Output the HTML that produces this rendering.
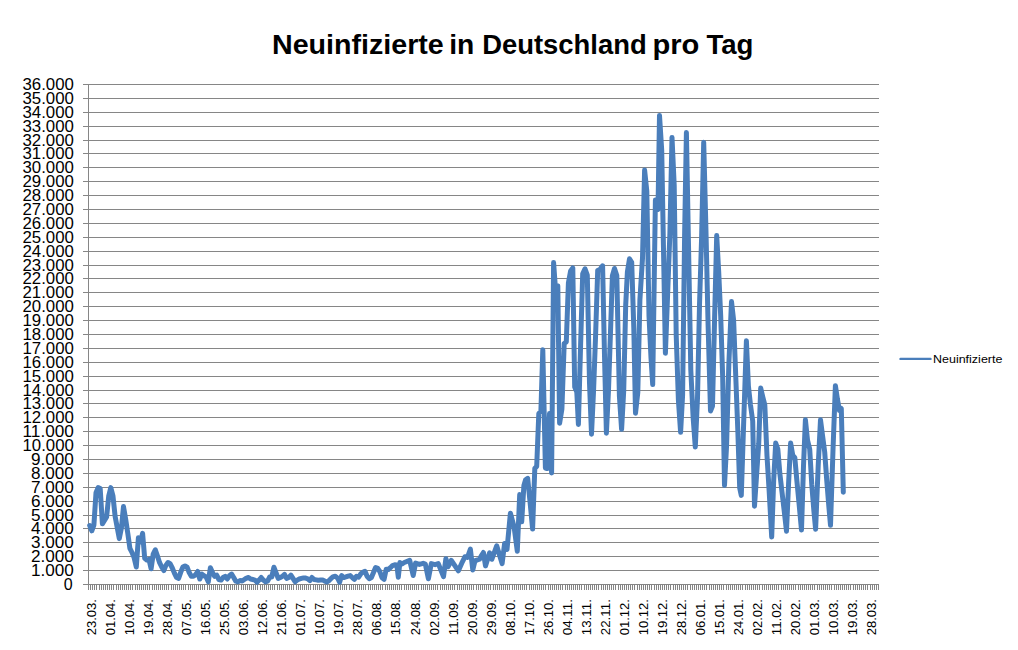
<!DOCTYPE html>
<html lang="de"><head><meta charset="utf-8"><title>Neuinfizierte in Deutschland pro Tag</title>
<style>html,body{margin:0;padding:0;background:#fff;}svg{display:block;}text{font-family:"Liberation Sans",sans-serif;fill:#000;}</style></head><body>
<svg width="1018" height="650" viewBox="0 0 1018 650">
<rect width="1018" height="650" fill="#fff"/>
<path d="M83 584.5H879M83 570.5H879M83 556.5H879M83 542.5H879M83 528.5H879M83 515.5H879M83 501.5H879M83 487.5H879M83 473.5H879M83 459.5H879M83 445.5H879M83 431.5H879M83 417.5H879M83 403.5H879M83 390.5H879M83 376.5H879M83 362.5H879M83 348.5H879M83 334.5H879M83 320.5H879M83 306.5H879M83 292.5H879M83 278.5H879M83 265.5H879M83 251.5H879M83 237.5H879M83 223.5H879M83 209.5H879M83 195.5H879M83 181.5H879M83 167.5H879M83 153.5H879M83 140.5H879M83 126.5H879M83 112.5H879M83 98.5H879M83 84.5H879" stroke="#868686" stroke-width="1" fill="none" shape-rendering="crispEdges"/>
<path d="M88.5 84V589.5" stroke="#868686" stroke-width="1" fill="none" shape-rendering="crispEdges"/>
<path d="M88.50 584.5V589.5M90.62 584.5V589.5M92.74 584.5V589.5M94.85 584.5V589.5M96.97 584.5V589.5M99.09 584.5V589.5M101.21 584.5V589.5M103.33 584.5V589.5M105.44 584.5V589.5M107.56 584.5V589.5M109.68 584.5V589.5M111.80 584.5V589.5M113.92 584.5V589.5M116.03 584.5V589.5M118.15 584.5V589.5M120.27 584.5V589.5M122.39 584.5V589.5M124.51 584.5V589.5M126.62 584.5V589.5M128.74 584.5V589.5M130.86 584.5V589.5M132.98 584.5V589.5M135.10 584.5V589.5M137.21 584.5V589.5M139.33 584.5V589.5M141.45 584.5V589.5M143.57 584.5V589.5M145.69 584.5V589.5M147.80 584.5V589.5M149.92 584.5V589.5M152.04 584.5V589.5M154.16 584.5V589.5M156.28 584.5V589.5M158.39 584.5V589.5M160.51 584.5V589.5M162.63 584.5V589.5M164.75 584.5V589.5M166.87 584.5V589.5M168.98 584.5V589.5M171.10 584.5V589.5M173.22 584.5V589.5M175.34 584.5V589.5M177.46 584.5V589.5M179.57 584.5V589.5M181.69 584.5V589.5M183.81 584.5V589.5M185.93 584.5V589.5M188.05 584.5V589.5M190.16 584.5V589.5M192.28 584.5V589.5M194.40 584.5V589.5M196.52 584.5V589.5M198.64 584.5V589.5M200.75 584.5V589.5M202.87 584.5V589.5M204.99 584.5V589.5M207.11 584.5V589.5M209.23 584.5V589.5M211.34 584.5V589.5M213.46 584.5V589.5M215.58 584.5V589.5M217.70 584.5V589.5M219.82 584.5V589.5M221.93 584.5V589.5M224.05 584.5V589.5M226.17 584.5V589.5M228.29 584.5V589.5M230.41 584.5V589.5M232.52 584.5V589.5M234.64 584.5V589.5M236.76 584.5V589.5M238.88 584.5V589.5M241.00 584.5V589.5M243.11 584.5V589.5M245.23 584.5V589.5M247.35 584.5V589.5M249.47 584.5V589.5M251.59 584.5V589.5M253.70 584.5V589.5M255.82 584.5V589.5M257.94 584.5V589.5M260.06 584.5V589.5M262.18 584.5V589.5M264.29 584.5V589.5M266.41 584.5V589.5M268.53 584.5V589.5M270.65 584.5V589.5M272.77 584.5V589.5M274.88 584.5V589.5M277.00 584.5V589.5M279.12 584.5V589.5M281.24 584.5V589.5M283.36 584.5V589.5M285.47 584.5V589.5M287.59 584.5V589.5M289.71 584.5V589.5M291.83 584.5V589.5M293.95 584.5V589.5M296.06 584.5V589.5M298.18 584.5V589.5M300.30 584.5V589.5M302.42 584.5V589.5M304.54 584.5V589.5M306.65 584.5V589.5M308.77 584.5V589.5M310.89 584.5V589.5M313.01 584.5V589.5M315.13 584.5V589.5M317.24 584.5V589.5M319.36 584.5V589.5M321.48 584.5V589.5M323.60 584.5V589.5M325.72 584.5V589.5M327.83 584.5V589.5M329.95 584.5V589.5M332.07 584.5V589.5M334.19 584.5V589.5M336.31 584.5V589.5M338.42 584.5V589.5M340.54 584.5V589.5M342.66 584.5V589.5M344.78 584.5V589.5M346.90 584.5V589.5M349.01 584.5V589.5M351.13 584.5V589.5M353.25 584.5V589.5M355.37 584.5V589.5M357.49 584.5V589.5M359.60 584.5V589.5M361.72 584.5V589.5M363.84 584.5V589.5M365.96 584.5V589.5M368.08 584.5V589.5M370.19 584.5V589.5M372.31 584.5V589.5M374.43 584.5V589.5M376.55 584.5V589.5M378.67 584.5V589.5M380.78 584.5V589.5M382.90 584.5V589.5M385.02 584.5V589.5M387.14 584.5V589.5M389.26 584.5V589.5M391.37 584.5V589.5M393.49 584.5V589.5M395.61 584.5V589.5M397.73 584.5V589.5M399.85 584.5V589.5M401.96 584.5V589.5M404.08 584.5V589.5M406.20 584.5V589.5M408.32 584.5V589.5M410.44 584.5V589.5M412.55 584.5V589.5M414.67 584.5V589.5M416.79 584.5V589.5M418.91 584.5V589.5M421.03 584.5V589.5M423.14 584.5V589.5M425.26 584.5V589.5M427.38 584.5V589.5M429.50 584.5V589.5M431.62 584.5V589.5M433.73 584.5V589.5M435.85 584.5V589.5M437.97 584.5V589.5M440.09 584.5V589.5M442.21 584.5V589.5M444.32 584.5V589.5M446.44 584.5V589.5M448.56 584.5V589.5M450.68 584.5V589.5M452.80 584.5V589.5M454.91 584.5V589.5M457.03 584.5V589.5M459.15 584.5V589.5M461.27 584.5V589.5M463.39 584.5V589.5M465.50 584.5V589.5M467.62 584.5V589.5M469.74 584.5V589.5M471.86 584.5V589.5M473.98 584.5V589.5M476.09 584.5V589.5M478.21 584.5V589.5M480.33 584.5V589.5M482.45 584.5V589.5M484.57 584.5V589.5M486.68 584.5V589.5M488.80 584.5V589.5M490.92 584.5V589.5M493.04 584.5V589.5M495.16 584.5V589.5M497.27 584.5V589.5M499.39 584.5V589.5M501.51 584.5V589.5M503.63 584.5V589.5M505.75 584.5V589.5M507.86 584.5V589.5M509.98 584.5V589.5M512.10 584.5V589.5M514.22 584.5V589.5M516.34 584.5V589.5M518.45 584.5V589.5M520.57 584.5V589.5M522.69 584.5V589.5M524.81 584.5V589.5M526.93 584.5V589.5M529.04 584.5V589.5M531.16 584.5V589.5M533.28 584.5V589.5M535.40 584.5V589.5M537.52 584.5V589.5M539.63 584.5V589.5M541.75 584.5V589.5M543.87 584.5V589.5M545.99 584.5V589.5M548.11 584.5V589.5M550.22 584.5V589.5M552.34 584.5V589.5M554.46 584.5V589.5M556.58 584.5V589.5M558.70 584.5V589.5M560.81 584.5V589.5M562.93 584.5V589.5M565.05 584.5V589.5M567.17 584.5V589.5M569.29 584.5V589.5M571.40 584.5V589.5M573.52 584.5V589.5M575.64 584.5V589.5M577.76 584.5V589.5M579.88 584.5V589.5M581.99 584.5V589.5M584.11 584.5V589.5M586.23 584.5V589.5M588.35 584.5V589.5M590.47 584.5V589.5M592.58 584.5V589.5M594.70 584.5V589.5M596.82 584.5V589.5M598.94 584.5V589.5M601.06 584.5V589.5M603.17 584.5V589.5M605.29 584.5V589.5M607.41 584.5V589.5M609.53 584.5V589.5M611.65 584.5V589.5M613.76 584.5V589.5M615.88 584.5V589.5M618.00 584.5V589.5M620.12 584.5V589.5M622.24 584.5V589.5M624.35 584.5V589.5M626.47 584.5V589.5M628.59 584.5V589.5M630.71 584.5V589.5M632.83 584.5V589.5M634.94 584.5V589.5M637.06 584.5V589.5M639.18 584.5V589.5M641.30 584.5V589.5M643.42 584.5V589.5M645.53 584.5V589.5M647.65 584.5V589.5M649.77 584.5V589.5M651.89 584.5V589.5M654.01 584.5V589.5M656.12 584.5V589.5M658.24 584.5V589.5M660.36 584.5V589.5M662.48 584.5V589.5M664.60 584.5V589.5M666.71 584.5V589.5M668.83 584.5V589.5M670.95 584.5V589.5M673.07 584.5V589.5M675.19 584.5V589.5M677.30 584.5V589.5M679.42 584.5V589.5M681.54 584.5V589.5M683.66 584.5V589.5M685.78 584.5V589.5M687.89 584.5V589.5M690.01 584.5V589.5M692.13 584.5V589.5M694.25 584.5V589.5M696.37 584.5V589.5M698.48 584.5V589.5M700.60 584.5V589.5M702.72 584.5V589.5M704.84 584.5V589.5M706.96 584.5V589.5M709.07 584.5V589.5M711.19 584.5V589.5M713.31 584.5V589.5M715.43 584.5V589.5M717.55 584.5V589.5M719.66 584.5V589.5M721.78 584.5V589.5M723.90 584.5V589.5M726.02 584.5V589.5M728.14 584.5V589.5M730.25 584.5V589.5M732.37 584.5V589.5M734.49 584.5V589.5M736.61 584.5V589.5M738.73 584.5V589.5M740.84 584.5V589.5M742.96 584.5V589.5M745.08 584.5V589.5M747.20 584.5V589.5M749.32 584.5V589.5M751.43 584.5V589.5M753.55 584.5V589.5M755.67 584.5V589.5M757.79 584.5V589.5M759.91 584.5V589.5M762.02 584.5V589.5M764.14 584.5V589.5M766.26 584.5V589.5M768.38 584.5V589.5M770.50 584.5V589.5M772.61 584.5V589.5M774.73 584.5V589.5M776.85 584.5V589.5M778.97 584.5V589.5M781.09 584.5V589.5M783.20 584.5V589.5M785.32 584.5V589.5M787.44 584.5V589.5M789.56 584.5V589.5M791.68 584.5V589.5M793.79 584.5V589.5M795.91 584.5V589.5M798.03 584.5V589.5M800.15 584.5V589.5M802.27 584.5V589.5M804.38 584.5V589.5M806.50 584.5V589.5M808.62 584.5V589.5M810.74 584.5V589.5M812.86 584.5V589.5M814.97 584.5V589.5M817.09 584.5V589.5M819.21 584.5V589.5M821.33 584.5V589.5M823.45 584.5V589.5M825.56 584.5V589.5M827.68 584.5V589.5M829.80 584.5V589.5M831.92 584.5V589.5M834.04 584.5V589.5M836.15 584.5V589.5M838.27 584.5V589.5M840.39 584.5V589.5M842.51 584.5V589.5M844.63 584.5V589.5M846.74 584.5V589.5M848.86 584.5V589.5M850.98 584.5V589.5M853.10 584.5V589.5M855.22 584.5V589.5M857.33 584.5V589.5M859.45 584.5V589.5M861.57 584.5V589.5M863.69 584.5V589.5M865.81 584.5V589.5M867.92 584.5V589.5M870.04 584.5V589.5M872.16 584.5V589.5M874.28 584.5V589.5M876.40 584.5V589.5M878.51 584.5V589.5" stroke="#868686" stroke-width="1" fill="none" shape-rendering="crispEdges"/>
<text x="272.0" y="54.4" font-size="27" font-weight="bold" textLength="171.8" lengthAdjust="spacingAndGlyphs">Neuinfizierte</text>
<text x="449.2" y="54.4" font-size="27" font-weight="bold" textLength="25.1" lengthAdjust="spacingAndGlyphs">in</text>
<text x="482.2" y="54.4" font-size="27" font-weight="bold" textLength="164.5" lengthAdjust="spacingAndGlyphs">Deutschland</text>
<text x="652.4" y="54.4" font-size="27" font-weight="bold" textLength="46.9" lengthAdjust="spacingAndGlyphs">pro</text>
<text x="706.4" y="54.4" font-size="27" font-weight="bold" textLength="47.0" lengthAdjust="spacingAndGlyphs">Tag</text>
<text x="72.6" y="589.7" text-anchor="end" font-size="16">0</text>
<text x="73.9" y="575.7" text-anchor="end" font-size="16" textLength="42.9" lengthAdjust="spacingAndGlyphs">1.000</text>
<text x="73.9" y="561.7" text-anchor="end" font-size="16" textLength="42.9" lengthAdjust="spacingAndGlyphs">2.000</text>
<text x="73.9" y="547.7" text-anchor="end" font-size="16" textLength="42.9" lengthAdjust="spacingAndGlyphs">3.000</text>
<text x="73.9" y="533.7" text-anchor="end" font-size="16" textLength="42.9" lengthAdjust="spacingAndGlyphs">4.000</text>
<text x="73.9" y="520.7" text-anchor="end" font-size="16" textLength="42.9" lengthAdjust="spacingAndGlyphs">5.000</text>
<text x="73.9" y="506.7" text-anchor="end" font-size="16" textLength="42.9" lengthAdjust="spacingAndGlyphs">6.000</text>
<text x="73.9" y="492.7" text-anchor="end" font-size="16" textLength="42.9" lengthAdjust="spacingAndGlyphs">7.000</text>
<text x="73.9" y="478.7" text-anchor="end" font-size="16" textLength="42.9" lengthAdjust="spacingAndGlyphs">8.000</text>
<text x="73.9" y="464.7" text-anchor="end" font-size="16" textLength="42.9" lengthAdjust="spacingAndGlyphs">9.000</text>
<text x="73.9" y="450.7" text-anchor="end" font-size="16" textLength="51.4" lengthAdjust="spacingAndGlyphs">10.000</text>
<text x="73.9" y="436.7" text-anchor="end" font-size="16" textLength="51.4" lengthAdjust="spacingAndGlyphs">11.000</text>
<text x="73.9" y="422.7" text-anchor="end" font-size="16" textLength="51.4" lengthAdjust="spacingAndGlyphs">12.000</text>
<text x="73.9" y="408.7" text-anchor="end" font-size="16" textLength="51.4" lengthAdjust="spacingAndGlyphs">13.000</text>
<text x="73.9" y="395.7" text-anchor="end" font-size="16" textLength="51.4" lengthAdjust="spacingAndGlyphs">14.000</text>
<text x="73.9" y="381.7" text-anchor="end" font-size="16" textLength="51.4" lengthAdjust="spacingAndGlyphs">15.000</text>
<text x="73.9" y="367.7" text-anchor="end" font-size="16" textLength="51.4" lengthAdjust="spacingAndGlyphs">16.000</text>
<text x="73.9" y="353.7" text-anchor="end" font-size="16" textLength="51.4" lengthAdjust="spacingAndGlyphs">17.000</text>
<text x="73.9" y="339.7" text-anchor="end" font-size="16" textLength="51.4" lengthAdjust="spacingAndGlyphs">18.000</text>
<text x="73.9" y="325.7" text-anchor="end" font-size="16" textLength="51.4" lengthAdjust="spacingAndGlyphs">19.000</text>
<text x="73.9" y="311.7" text-anchor="end" font-size="16" textLength="51.4" lengthAdjust="spacingAndGlyphs">20.000</text>
<text x="73.9" y="297.7" text-anchor="end" font-size="16" textLength="51.4" lengthAdjust="spacingAndGlyphs">21.000</text>
<text x="73.9" y="283.7" text-anchor="end" font-size="16" textLength="51.4" lengthAdjust="spacingAndGlyphs">22.000</text>
<text x="73.9" y="270.7" text-anchor="end" font-size="16" textLength="51.4" lengthAdjust="spacingAndGlyphs">23.000</text>
<text x="73.9" y="256.7" text-anchor="end" font-size="16" textLength="51.4" lengthAdjust="spacingAndGlyphs">24.000</text>
<text x="73.9" y="242.7" text-anchor="end" font-size="16" textLength="51.4" lengthAdjust="spacingAndGlyphs">25.000</text>
<text x="73.9" y="228.7" text-anchor="end" font-size="16" textLength="51.4" lengthAdjust="spacingAndGlyphs">26.000</text>
<text x="73.9" y="214.7" text-anchor="end" font-size="16" textLength="51.4" lengthAdjust="spacingAndGlyphs">27.000</text>
<text x="73.9" y="200.7" text-anchor="end" font-size="16" textLength="51.4" lengthAdjust="spacingAndGlyphs">28.000</text>
<text x="73.9" y="186.7" text-anchor="end" font-size="16" textLength="51.4" lengthAdjust="spacingAndGlyphs">29.000</text>
<text x="73.9" y="172.7" text-anchor="end" font-size="16" textLength="51.4" lengthAdjust="spacingAndGlyphs">30.000</text>
<text x="73.9" y="158.7" text-anchor="end" font-size="16" textLength="51.4" lengthAdjust="spacingAndGlyphs">31.000</text>
<text x="73.9" y="145.7" text-anchor="end" font-size="16" textLength="51.4" lengthAdjust="spacingAndGlyphs">32.000</text>
<text x="73.9" y="131.7" text-anchor="end" font-size="16" textLength="51.4" lengthAdjust="spacingAndGlyphs">33.000</text>
<text x="73.9" y="117.7" text-anchor="end" font-size="16" textLength="51.4" lengthAdjust="spacingAndGlyphs">34.000</text>
<text x="73.9" y="103.7" text-anchor="end" font-size="16" textLength="51.4" lengthAdjust="spacingAndGlyphs">35.000</text>
<text x="73.9" y="89.7" text-anchor="end" font-size="16" textLength="51.4" lengthAdjust="spacingAndGlyphs">36.000</text>
<text transform="translate(95.8 635.3) rotate(-90)" font-size="13.4" textLength="36.2" lengthAdjust="spacingAndGlyphs">23.03.</text>
<text transform="translate(114.8 635.3) rotate(-90)" font-size="13.4" textLength="36.2" lengthAdjust="spacingAndGlyphs">01.04.</text>
<text transform="translate(133.9 635.3) rotate(-90)" font-size="13.4" textLength="36.2" lengthAdjust="spacingAndGlyphs">10.04.</text>
<text transform="translate(152.9 635.3) rotate(-90)" font-size="13.4" textLength="36.2" lengthAdjust="spacingAndGlyphs">19.04.</text>
<text transform="translate(172.0 635.3) rotate(-90)" font-size="13.4" textLength="36.2" lengthAdjust="spacingAndGlyphs">28.04.</text>
<text transform="translate(191.0 635.3) rotate(-90)" font-size="13.4" textLength="36.2" lengthAdjust="spacingAndGlyphs">07.05.</text>
<text transform="translate(210.0 635.3) rotate(-90)" font-size="13.4" textLength="36.2" lengthAdjust="spacingAndGlyphs">16.05.</text>
<text transform="translate(229.1 635.3) rotate(-90)" font-size="13.4" textLength="36.2" lengthAdjust="spacingAndGlyphs">25.05.</text>
<text transform="translate(248.1 635.3) rotate(-90)" font-size="13.4" textLength="36.2" lengthAdjust="spacingAndGlyphs">03.06.</text>
<text transform="translate(267.2 635.3) rotate(-90)" font-size="13.4" textLength="36.2" lengthAdjust="spacingAndGlyphs">12.06.</text>
<text transform="translate(286.2 635.3) rotate(-90)" font-size="13.4" textLength="36.2" lengthAdjust="spacingAndGlyphs">21.06.</text>
<text transform="translate(305.2 635.3) rotate(-90)" font-size="13.4" textLength="36.2" lengthAdjust="spacingAndGlyphs">01.07.</text>
<text transform="translate(324.3 635.3) rotate(-90)" font-size="13.4" textLength="36.2" lengthAdjust="spacingAndGlyphs">10.07.</text>
<text transform="translate(343.3 635.3) rotate(-90)" font-size="13.4" textLength="36.2" lengthAdjust="spacingAndGlyphs">19.07.</text>
<text transform="translate(362.4 635.3) rotate(-90)" font-size="13.4" textLength="36.2" lengthAdjust="spacingAndGlyphs">28.07.</text>
<text transform="translate(381.4 635.3) rotate(-90)" font-size="13.4" textLength="36.2" lengthAdjust="spacingAndGlyphs">06.08.</text>
<text transform="translate(400.4 635.3) rotate(-90)" font-size="13.4" textLength="36.2" lengthAdjust="spacingAndGlyphs">15.08.</text>
<text transform="translate(419.5 635.3) rotate(-90)" font-size="13.4" textLength="36.2" lengthAdjust="spacingAndGlyphs">24.08.</text>
<text transform="translate(438.5 635.3) rotate(-90)" font-size="13.4" textLength="36.2" lengthAdjust="spacingAndGlyphs">02.09.</text>
<text transform="translate(457.6 635.3) rotate(-90)" font-size="13.4" textLength="36.2" lengthAdjust="spacingAndGlyphs">11.09.</text>
<text transform="translate(476.6 635.3) rotate(-90)" font-size="13.4" textLength="36.2" lengthAdjust="spacingAndGlyphs">20.09.</text>
<text transform="translate(495.6 635.3) rotate(-90)" font-size="13.4" textLength="36.2" lengthAdjust="spacingAndGlyphs">29.09.</text>
<text transform="translate(514.7 635.3) rotate(-90)" font-size="13.4" textLength="36.2" lengthAdjust="spacingAndGlyphs">08.10.</text>
<text transform="translate(533.7 635.3) rotate(-90)" font-size="13.4" textLength="36.2" lengthAdjust="spacingAndGlyphs">17.10.</text>
<text transform="translate(552.8 635.3) rotate(-90)" font-size="13.4" textLength="36.2" lengthAdjust="spacingAndGlyphs">26.10.</text>
<text transform="translate(571.8 635.3) rotate(-90)" font-size="13.4" textLength="36.2" lengthAdjust="spacingAndGlyphs">04.11.</text>
<text transform="translate(590.8 635.3) rotate(-90)" font-size="13.4" textLength="36.2" lengthAdjust="spacingAndGlyphs">13.11.</text>
<text transform="translate(609.9 635.3) rotate(-90)" font-size="13.4" textLength="36.2" lengthAdjust="spacingAndGlyphs">22.11.</text>
<text transform="translate(628.9 635.3) rotate(-90)" font-size="13.4" textLength="36.2" lengthAdjust="spacingAndGlyphs">01.12.</text>
<text transform="translate(648.0 635.3) rotate(-90)" font-size="13.4" textLength="36.2" lengthAdjust="spacingAndGlyphs">10.12.</text>
<text transform="translate(667.0 635.3) rotate(-90)" font-size="13.4" textLength="36.2" lengthAdjust="spacingAndGlyphs">19.12.</text>
<text transform="translate(686.0 635.3) rotate(-90)" font-size="13.4" textLength="36.2" lengthAdjust="spacingAndGlyphs">28.12.</text>
<text transform="translate(705.1 635.3) rotate(-90)" font-size="13.4" textLength="36.2" lengthAdjust="spacingAndGlyphs">06.01.</text>
<text transform="translate(724.1 635.3) rotate(-90)" font-size="13.4" textLength="36.2" lengthAdjust="spacingAndGlyphs">15.01.</text>
<text transform="translate(743.2 635.3) rotate(-90)" font-size="13.4" textLength="36.2" lengthAdjust="spacingAndGlyphs">24.01.</text>
<text transform="translate(762.2 635.3) rotate(-90)" font-size="13.4" textLength="36.2" lengthAdjust="spacingAndGlyphs">02.02.</text>
<text transform="translate(781.2 635.3) rotate(-90)" font-size="13.4" textLength="36.2" lengthAdjust="spacingAndGlyphs">11.02.</text>
<text transform="translate(800.3 635.3) rotate(-90)" font-size="13.4" textLength="36.2" lengthAdjust="spacingAndGlyphs">20.02.</text>
<text transform="translate(819.3 635.3) rotate(-90)" font-size="13.4" textLength="36.2" lengthAdjust="spacingAndGlyphs">01.03.</text>
<text transform="translate(838.4 635.3) rotate(-90)" font-size="13.4" textLength="36.2" lengthAdjust="spacingAndGlyphs">10.03.</text>
<text transform="translate(857.4 635.3) rotate(-90)" font-size="13.4" textLength="36.2" lengthAdjust="spacingAndGlyphs">19.03.</text>
<text transform="translate(876.4 635.3) rotate(-90)" font-size="13.4" textLength="36.2" lengthAdjust="spacingAndGlyphs">28.03.</text>
<polyline points="89.7,525.6 91.8,530.8 93.9,525.1 96.0,492.7 98.1,487.6 100.2,488.6 102.4,523.8 104.5,520.5 106.6,517.0 108.7,496.2 110.8,487.6 113.0,496.2 115.1,516.3 117.2,527.5 119.3,538.6 121.4,528.1 123.5,506.6 125.7,519.5 127.8,533.4 129.9,548.3 132.0,552.5 134.1,557.6 136.3,567.0 138.4,537.7 140.5,542.0 142.6,533.4 144.7,558.4 146.8,560.1 149.0,559.4 151.1,568.8 153.2,554.1 155.3,549.8 157.4,555.9 159.6,562.7 161.7,567.0 163.8,570.5 165.9,565.4 168.0,562.5 170.1,563.7 172.3,568.0 174.4,573.1 176.5,577.5 178.6,578.3 180.7,572.3 182.9,567.0 185.0,565.9 187.1,567.2 189.2,572.6 191.3,576.3 193.4,576.3 195.6,574.7 197.7,571.5 199.8,579.0 201.9,574.1 204.0,575.8 206.1,576.9 208.3,581.8 210.4,567.7 212.5,572.6 214.6,576.3 216.7,575.2 218.9,579.5 221.0,580.1 223.1,577.5 225.2,576.3 227.3,579.0 229.4,575.8 231.6,574.1 233.7,577.5 235.8,581.2 237.9,581.8 240.0,580.6 242.2,580.9 244.3,579.5 246.4,578.1 248.5,577.5 250.6,579.0 252.7,579.5 254.9,580.1 257.0,582.2 259.1,580.1 261.2,577.5 263.3,580.1 265.5,581.8 267.6,581.2 269.7,576.9 271.8,576.9 273.9,567.2 276.0,572.6 278.2,578.4 280.3,577.5 282.4,576.3 284.5,574.5 286.6,578.4 288.8,577.5 290.9,575.2 293.0,578.4 295.1,581.8 297.2,580.1 299.3,579.0 301.5,578.4 303.6,577.9 305.7,578.1 307.8,578.8 309.9,580.6 312.0,577.5 314.2,579.5 316.3,579.9 318.4,580.3 320.5,580.1 322.6,579.9 324.8,581.2 326.9,582.0 329.0,580.6 331.1,578.4 333.2,576.6 335.3,576.3 337.5,577.9 339.6,582.2 341.7,575.6 343.8,577.5 345.9,576.9 348.1,576.1 350.2,575.6 352.3,577.5 354.4,579.3 356.5,576.3 358.6,577.2 360.8,573.8 362.9,572.3 365.0,571.3 367.1,576.3 369.2,578.7 371.4,577.5 373.5,572.6 375.6,567.5 377.7,568.4 379.8,571.5 381.9,577.5 384.1,579.3 386.2,569.3 388.3,569.5 390.4,567.7 392.5,565.6 394.7,564.8 396.8,565.0 398.3,577.3 399.9,562.5 402.1,563.9 404.3,562.5 409.7,560.4 413.2,575.5 415.6,563.1 419.4,564.4 423.2,563.3 425.3,564.1 428.4,578.7 431.3,563.6 435.1,564.7 438.3,563.6 443.5,576.6 445.9,558.7 448.0,566.8 451.3,560.4 458.4,570.8 462.4,561.8 465.0,556.7 467.4,557.5 470.4,549.2 472.8,570.0 475.0,560.6 477.3,560.0 479.5,559.2 481.5,555.5 483.4,552.5 485.5,565.9 489.6,552.8 491.8,559.3 496.7,545.8 502.1,563.6 504.6,543.5 507.0,549.5 510.4,513.2 514.1,527.0 517.3,551.2 519.7,494.5 521.7,521.8 523.9,485.5 525.6,479.8 527.7,478.4 530.3,504.5 532.6,529.1 534.8,468.5 536.7,466.3 538.8,413.5 540.9,411.0 542.8,349.7 545.4,468.0 547.1,468.5 549.5,413.6 551.6,473.0 553.6,262.6 555.7,292.0 557.8,285.8 559.6,423.3 561.9,409.0 564.2,343.5 566.3,342.0 568.4,283.0 570.6,271.0 572.8,268.0 574.7,387.0 576.8,392.0 578.4,424.5 580.6,345.0 582.7,273.7 585.0,268.8 587.3,275.2 589.5,383.0 591.5,434.2 593.6,390.0 595.6,335.0 597.7,270.4 600.1,269.2 602.6,265.8 604.6,360.0 606.4,433.2 608.5,390.0 610.5,332.0 612.4,275.6 614.5,268.5 616.8,275.6 619.4,396.0 621.6,429.3 623.7,391.0 625.7,305.0 627.4,272.0 629.5,258.8 631.7,262.3 633.8,328.0 635.5,413.2 637.8,392.5 639.9,300.0 642.5,258.0 644.6,170.0 646.8,191.0 649.0,316.0 651.0,358.0 652.7,384.6 655.4,200.0 658.0,209.5 659.5,115.4 661.7,150.0 663.6,255.0 665.4,353.3 667.6,295.0 669.9,233.0 672.0,137.4 674.2,185.0 676.2,335.0 678.4,400.0 680.6,432.3 682.6,395.0 684.6,236.0 686.4,132.5 688.6,250.0 690.8,370.0 693.1,417.0 695.3,447.0 697.5,398.0 699.5,305.0 701.6,238.0 703.7,142.3 706.0,232.0 708.1,325.0 710.5,411.0 712.5,406.0 714.6,318.0 716.7,235.6 718.7,272.0 720.7,316.0 722.7,378.0 724.5,485.4 726.6,445.0 728.8,365.0 731.5,301.6 733.6,320.0 735.7,375.0 737.8,430.0 739.7,488.0 741.3,495.4 743.6,425.0 746.4,340.8 748.4,386.0 750.5,405.0 752.7,421.0 754.5,506.2 756.6,475.0 758.7,444.0 760.7,388.1 762.8,397.0 764.8,404.8 767.0,456.0 769.1,490.0 771.7,537.0 773.7,480.0 775.7,443.0 777.8,449.0 779.9,474.0 782.0,492.0 784.1,510.0 786.5,531.2 788.6,483.0 790.6,443.0 792.7,455.0 794.8,457.5 796.9,481.0 799.0,503.0 801.5,530.0 803.5,466.0 805.4,419.8 807.5,440.0 809.7,449.0 811.8,485.0 813.9,511.0 815.6,529.2 818.2,466.0 820.5,419.8 822.6,436.0 824.7,452.0 826.8,481.0 828.9,507.0 830.5,525.3 833.0,450.0 835.4,385.7 837.4,399.0 839.4,410.5 841.3,408.5 843.3,492.3" fill="none" stroke="#4a7ebb" stroke-width="5.0" stroke-linejoin="round" stroke-linecap="round"/>
<path d="M900.5 358.9H930.5" stroke="#4a7ebb" stroke-width="2.4" stroke-linecap="round" fill="none"/>
<text x="933" y="363" font-size="11.3" textLength="69.4" lengthAdjust="spacingAndGlyphs">Neuinfizierte</text>
</svg></body></html>
